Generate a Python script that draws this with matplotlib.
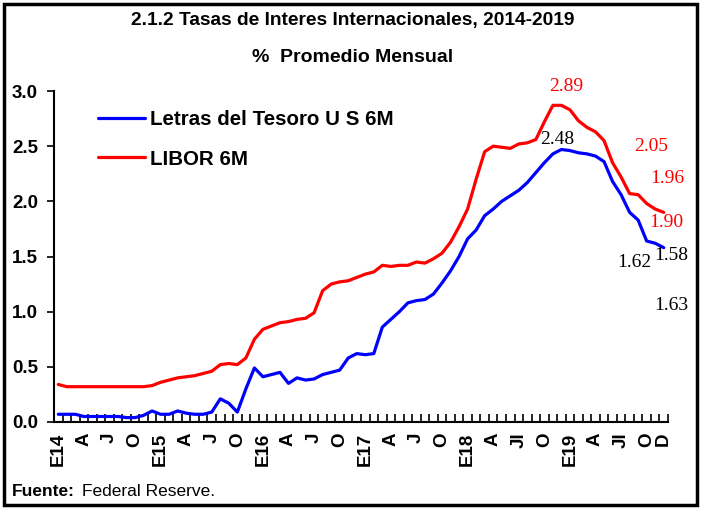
import matplotlib
matplotlib.use("Agg")
import matplotlib.pyplot as plt
from matplotlib.patches import Rectangle

months = list(range(72))  # Jan 2014 .. Dec 2019

tbill_6m = [0.07, 0.07, 0.07, 0.05, 0.05, 0.05, 0.05, 0.05, 0.04, 0.04, 0.06, 0.10,
            0.07, 0.07, 0.10, 0.08, 0.07, 0.07, 0.09, 0.21, 0.17, 0.09, 0.30, 0.49,
            0.41, 0.43, 0.45, 0.35, 0.40, 0.38, 0.39, 0.43, 0.45, 0.47, 0.58, 0.62,
            0.61, 0.62, 0.86, 0.93, 1.00, 1.08, 1.10, 1.11, 1.16, 1.26, 1.37, 1.50,
            1.66, 1.74, 1.87, 1.93, 2.00, 2.05, 2.10, 2.17, 2.26, 2.35, 2.43, 2.47,
            2.46, 2.44, 2.43, 2.41, 2.36, 2.18, 2.06, 1.90, 1.83, 1.64, 1.62, 1.58]

libor_6m = [0.34, 0.32, 0.32, 0.32, 0.32, 0.32, 0.32, 0.32, 0.32, 0.32, 0.32, 0.33,
            0.36, 0.38, 0.40, 0.41, 0.42, 0.44, 0.46, 0.52, 0.53, 0.52, 0.58, 0.75,
            0.84, 0.87, 0.90, 0.91, 0.93, 0.94, 0.99, 1.19, 1.25, 1.27, 1.28, 1.31,
            1.34, 1.36, 1.42, 1.41, 1.42, 1.42, 1.45, 1.44, 1.48, 1.53, 1.63, 1.77,
            1.93, 2.20, 2.45, 2.50, 2.49, 2.48, 2.52, 2.53, 2.56, 2.72, 2.87, 2.87,
            2.83, 2.73, 2.67, 2.63, 2.55, 2.35, 2.22, 2.07, 2.06, 1.98, 1.93, 1.90]

tick_pos = [0, 3, 6, 9, 12, 15, 18, 21, 24, 27, 30, 33, 36, 39, 42, 45,
            48, 51, 54, 57, 60, 63, 66, 69, 71]
tick_labels = ["E14", "A", "J", "O", "E15", "A", "J", "O", "E16", "A", "J", "O",
               "E17", "A", "J", "O", "E18", "A", "Jl", "O", "E19", "A", "Jl", "O", "D"]

# value labels: (text, month index, value)
red_labels = [("2.89", 59.6, 3.04), ("2.05", 69.5, 2.50), ("1.96", 71.4, 2.21), ("1.90", 71.3, 1.81)]
black_labels = [("2.48", 58.5, 2.56), ("1.62", 67.5, 1.45), ("1.58", 71.9, 1.51), ("1.63", 71.9, 1.06)]

sans = "Liberation Sans"

fig = plt.figure(figsize=(7.05, 5.08), dpi=100)
ax = fig.add_axes([54 / 705, 1 - 422 / 508, (668 - 54) / 705, (422 - 91) / 508])

ax.plot(months, tbill_6m, color="#0000ff", lw=2.3, label="Letras del Tesoro U S 6M", solid_capstyle="round")
ax.plot(months, libor_6m, color="#ff0000", lw=2.3, label="LIBOR 6M", solid_capstyle="round")

ax.set_xlim(-0.5, 71.5)
ax.set_ylim(0, 3.0)
ax.set_yticks([0, 0.5, 1.0, 1.5, 2.0, 2.5, 3.0])
ax.set_yticklabels(["0.0", "0.5", "1.0", "1.5", "2.0", "2.5", "3.0"],
                   fontfamily=sans, fontweight="bold", fontsize=13.5)
ax.tick_params(axis="y", direction="out", length=5, width=1.2, pad=6.5)

ax.set_xticks([i - 0.5 for i in range(73)], minor=True)
ax.set_xticks(tick_pos)
ax.set_xticklabels(tick_labels, rotation=90, fontfamily=sans,
                   fontweight="bold", fontsize=13.5)
ax.tick_params(axis="x", which="major", length=0, pad=7.5)
ax.tick_params(axis="x", which="minor", direction="in", length=6, width=1.2)

for s in ["top", "right"]:
    ax.spines[s].set_visible(False)
for s in ["left", "bottom"]:
    ax.spines[s].set_linewidth(1.5)

for txt, xi, yv in red_labels:
    ax.text(xi, yv, txt, color="#ff0000", fontfamily="Liberation Serif", fontsize=14,
            ha="center", va="center", clip_on=False)
for txt, xi, yv in black_labels:
    ax.text(xi, yv, txt, color="black", fontfamily="Liberation Serif", fontsize=14,
            ha="center", va="center", clip_on=False)

leg = ax.legend(loc="upper left", bbox_to_anchor=(98 / 705, 1 - 110 / 508),
                bbox_transform=fig.transFigure, frameon=False, borderpad=0, borderaxespad=0,
                prop={"family": sans, "weight": "bold", "size": 14.8},
                handlelength=2.3, handletextpad=0.25, labelspacing=1.0)

fig.text(0.5, 1 - 20 / 508, "2.1.2 Tasas de Interes Internacionales, 2014-2019",
         ha="center", va="center", fontfamily=sans, fontweight="bold", fontsize=13.8)
fig.text(0.5, 1 - 57 / 508, "%  Promedio Mensual",
         ha="center", va="center", fontfamily=sans, fontweight="bold", fontsize=14)

fig.text(12 / 705, 1 - 492 / 508, "Fuente:", ha="left", va="center",
         fontfamily=sans, fontweight="bold", fontsize=12.5)
fig.text(82 / 705, 1 - 492 / 508, "Federal Reserve.", ha="left", va="center",
         fontfamily=sans, fontsize=12.5)

fig.patches.append(Rectangle((4 / 705, 3 / 508), 693 / 705, 501 / 508, transform=fig.transFigure,
                             fill=False, edgecolor="black", linewidth=2.5))

fig.savefig("out.png", dpi=100)
